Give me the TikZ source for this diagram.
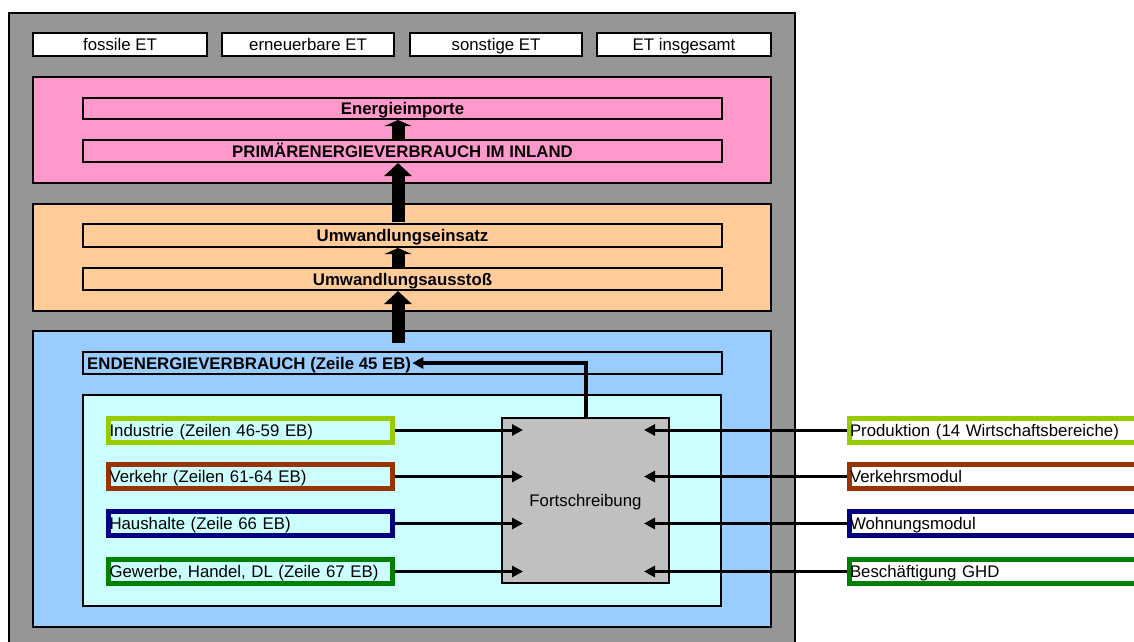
\documentclass[tikz,border=0pt]{standalone}
\usepackage{fontspec}
\setmainfont{Liberation Sans}
\usetikzlibrary{arrows.meta,calc}
\definecolor{outergray}{HTML}{969696}
\definecolor{pinkfill}{HTML}{FF99CC}
\definecolor{orangefill}{HTML}{FFCC99}
\definecolor{bluefill}{HTML}{99CCFF}
\definecolor{cyanfill}{HTML}{CCFFFF}
\definecolor{fwgray}{HTML}{C0C0C0}
\definecolor{cindustrie}{HTML}{99CC00}
\definecolor{cverkehr}{HTML}{993300}
\definecolor{chaushalt}{HTML}{000080}
\definecolor{cgewerbe}{HTML}{008000}
\begin{document}
\begin{tikzpicture}[x=1pt,y=-1pt,
  font=\fontsize{16.8}{19}\selectfont,
  every node/.style={text height=12pt, text depth=0pt},
  box/.style={draw=black, line width=2pt, inner sep=0pt, anchor=center},
  toplabel/.style={box, fill=white, minimum width=#1, minimum height=23pt},
  area/.style={box, minimum width=738pt},
  inner/.style={box, minimum width=639pt, font=\fontsize{16.8}{19}\selectfont\bfseries},
  cbox/.style={draw=#1, line width=5pt, fill=cyanfill, text width=282pt, inner xsep=1pt, inner ysep=0pt, minimum height=24pt, align=left, anchor=center},
  rbox/.style={draw=#1, line width=5pt, fill=white, text width=300pt, inner xsep=1pt, inner ysep=0pt, minimum height=24pt, align=left, anchor=west},
  bigarrow/.style={line width=13pt, -{Triangle[length=13pt,width=27pt]}},
  smallarrow/.style={line width=13pt, -{Triangle[length=6pt,width=27pt]}},
  conn/.style={line width=3pt, -{Triangle[length=11pt,width=11pt]}}
]
\useasboundingbox (0,0) rectangle (1134,641);
\clip (0,0) rectangle (1134,641);
% outer frame
\node[box, fill=outergray, minimum width=786pt, minimum height=640pt] (frame) at (402,333) {};
% top labels
\node[toplabel=174pt] (fossil) at (120,44.5) {fossile ET};
\node[toplabel=172pt] (erneu) at (308,44.5) {erneuerbare ET};
\node[toplabel=172pt] (sonst) at (496,44.5) {sonstige ET};
\node[toplabel=174pt] (ges) at (684,44.5) {ET insgesamt};
% pink area
\node[area, fill=pinkfill, minimum height=106pt] (pink) at (402,130) {};
\node[inner, minimum height=21pt] (import) at (402.5,108.5) {Energieimporte};
\node[inner, minimum height=22pt] (pev) at (402.5,151) {PRIMÄRENERGIEVERBRAUCH IM INLAND};
% orange area
\node[area, fill=orangefill, minimum height=107pt] (orange) at (402,257.5) {};
\node[inner, minimum height=23pt] (einsatz) at (402.5,235.5) {Umwandlungseinsatz};
\node[inner, minimum height=22pt] (ausstoss) at (402.5,279) {Umwandlungsausstoß};
% blue area
\node[area, fill=bluefill, minimum height=296pt] (blue) at (402,479) {};
\node[box, minimum width=639pt, minimum height=22pt] (endbox) at (402.5,363) {};
\node[anchor=west, inner sep=1pt, font=\fontsize{16.8}{19}\selectfont\bfseries] (endtext) at (86,363) {ENDENERGIEVERBRAUCH (Zeile 45 EB)};
\node[box, fill=cyanfill, minimum width=638pt, minimum height=211pt] (cyan) at (402,500.5) {};
\node[box, fill=fwgray, minimum width=167pt, minimum height=165pt] (fw) at (585.5,500.5) {Fortschreibung};
% left sector boxes
\node[cbox=cindustrie] (ind) at (250.5,430) {Industrie (Zeilen 46-59 EB)};
\node[cbox=cverkehr] (verk) at (250.5,476.5) {Verkehr (Zeilen 61-64 EB)};
\node[cbox=chaushalt] (haus) at (250.5,523.5) {Haushalte (Zeile 66 EB)};
\node[cbox=cgewerbe] (gew) at (250.5,571.5) {Gewerbe, Handel, DL (Zeile 67 EB)};
% right driver boxes
\node[rbox=cindustrie] (prod) at (846.5,430) {Produktion (14 Wirtschaftsbereiche)};
\node[rbox=cverkehr] (vmod) at (846.5,476.5) {Verkehrsmodul};
\node[rbox=chaushalt] (wmod) at (846.5,523.5) {Wohnungsmodul};
\node[rbox=cgewerbe] (bes) at (846.5,571.5) {Beschäftigung GHD};
% arrow coordinates
\coordinate (ax) at (398,0);
\coordinate (a1s) at (398,222);
\coordinate (a2s) at (398,343);
\coordinate (FL) at (523,0);
\coordinate (FR) at (644,0);
% vertical flow arrows
\draw[smallarrow] (pev.north -| ax) -- (import.south -| ax);
\draw[bigarrow] (a1s) -- (pev.south -| ax);
\draw[smallarrow] (ausstoss.north -| ax) -- (einsatz.south -| ax);
\draw[bigarrow] (a2s) -- (ausstoss.south -| ax);
% Fortschreibung connectors
\draw[conn] (ind.east) -- (ind.east -| FL);
\draw[conn] (verk.east) -- (verk.east -| FL);
\draw[conn] (haus.east) -- (haus.east -| FL);
\draw[conn] (gew.east) -- (gew.east -| FL);
\draw[conn] (prod.west) -- (prod.west -| FR);
\draw[conn] (vmod.west) -- (vmod.west -| FR);
\draw[conn] (wmod.west) -- (wmod.west -| FR);
\draw[conn] (bes.west) -- (bes.west -| FR);
\draw[conn, line width=4pt] (fw.north) |- (endtext.east);
\end{tikzpicture}
\end{document}
